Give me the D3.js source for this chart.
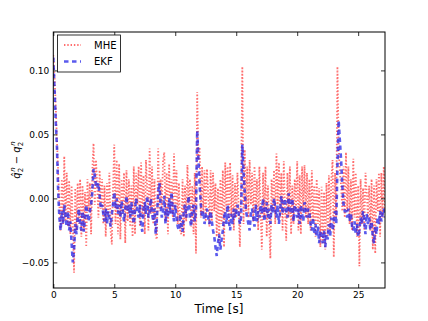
<!DOCTYPE html>
<html><head><meta charset="utf-8">
<script src="https://cdn.jsdelivr.net/npm/d3@7"></script>
<style>body{margin:0;background:#fff}svg{display:block}text{font-family:"DejaVu Sans",sans-serif}</style>
</head><body><svg id="c" width="428" height="321"></svg>
<script>
const dt = 0.1;
const mhe = [
0.112,0.095,0.072,0.045,0.020,-0.005,-0.025,0.015,-0.020,0.033,
-0.018,0.020,-0.022,0.014,-0.028,0.010,-0.020,-0.058,0.008,-0.025,
0.012,-0.020,0.015,-0.030,0.010,-0.025,0.005,-0.038,0.015,-0.010,
0.012,-0.028,0.022,0.043,-0.005,0.030,0.010,-0.015,0.022,-0.008,
0.015,-0.020,0.010,-0.030,0.012,-0.015,0.020,-0.025,-0.036,0.008,
0.042,-0.020,0.030,-0.028,0.027,-0.032,0.015,-0.012,0.020,-0.035,
0.022,-0.018,0.015,-0.022,0.010,-0.030,0.025,-0.028,0.020,-0.005,
0.025,-0.022,0.028,-0.015,0.018,-0.028,0.030,0.008,-0.025,0.039,
-0.012,0.025,-0.020,0.015,-0.030,-0.032,0.039,-0.010,0.015,-0.008,
0.030,0.036,-0.018,0.020,-0.028,0.027,-0.012,0.015,-0.015,0.035,
-0.010,0.022,-0.020,0.012,-0.025,-0.028,0.015,-0.030,0.010,-0.018,
0.026,-0.005,0.015,-0.022,0.010,-0.028,0.020,-0.043,0.083,0.030,
0.040,-0.015,0.025,-0.012,0.022,-0.018,0.023,0.005,-0.022,0.022,
-0.018,0.020,-0.010,0.012,-0.030,0.008,-0.035,0.015,-0.020,0.022,
-0.038,0.028,-0.010,0.025,-0.020,0.028,-0.015,0.018,-0.025,0.012,
-0.015,0.020,-0.008,-0.038,0.010,0.103,-0.020,0.038,-0.010,0.025,
-0.015,0.030,-0.005,0.020,-0.018,0.025,-0.010,0.015,-0.025,0.025,
-0.010,-0.040,0.020,-0.015,0.025,-0.030,0.010,-0.020,-0.047,0.015,
-0.010,0.022,-0.020,0.035,-0.005,0.028,-0.015,0.020,-0.025,0.029,
-0.010,-0.033,0.020,-0.015,0.025,-0.028,0.010,-0.020,0.015,-0.010,
0.029,-0.025,0.018,-0.028,0.025,-0.010,0.026,-0.015,0.020,-0.020,
0.015,-0.025,0.022,-0.018,0.010,-0.030,0.015,-0.020,0.008,-0.038,
0.009,-0.035,0.005,-0.040,0.012,-0.030,0.018,-0.025,0.015,0.030,
-0.046,0.020,-0.015,0.103,0.040,0.020,0.010,-0.010,0.025,-0.015,
0.036,-0.010,0.025,-0.020,0.015,-0.025,0.031,-0.015,0.020,-0.030,
0.010,-0.053,0.015,-0.020,0.008,-0.025,0.020,0.005,-0.015,0.010,
-0.025,0.015,-0.040,0.010,-0.043,0.015,-0.010,0.020,-0.030,0.020,
-0.015,0.025,-0.010];
const ekf = [
0.110,0.085,0.060,0.040,0.005,-0.015,-0.025,-0.010,-0.020,-0.005,
-0.015,-0.022,-0.010,-0.025,-0.018,-0.035,-0.050,-0.040,-0.020,-0.028,
-0.015,-0.008,-0.020,-0.025,-0.010,-0.026,-0.015,-0.005,-0.012,-0.018,
-0.010,-0.005,0.005,0.023,0.018,0.010,0.008,0.012,0.002,-0.008,
-0.005,-0.012,-0.018,-0.008,-0.020,-0.010,-0.015,-0.022,-0.012,-0.005,
0.005,-0.008,0.000,-0.012,-0.005,-0.015,-0.002,-0.010,-0.018,-0.008,
0.002,-0.010,-0.005,-0.015,-0.003,-0.012,-0.020,-0.008,0.000,-0.010,
-0.015,-0.005,-0.020,-0.026,-0.008,-0.003,-0.012,0.002,-0.015,-0.010,
0.000,-0.012,-0.018,-0.008,-0.028,-0.015,0.005,0.012,-0.005,-0.015,
-0.010,0.002,-0.020,-0.008,-0.015,0.000,-0.012,0.005,-0.010,-0.018,
-0.005,-0.015,-0.022,-0.025,-0.012,-0.020,-0.026,-0.010,-0.005,-0.015,
-0.008,0.002,-0.015,-0.022,-0.008,-0.005,-0.018,-0.010,0.053,0.030,
0.010,-0.005,-0.015,-0.010,-0.020,-0.012,-0.008,-0.015,-0.020,-0.010,
-0.018,-0.025,-0.030,-0.038,-0.045,-0.035,-0.028,-0.040,-0.032,-0.025,
-0.015,-0.010,-0.020,-0.005,-0.018,-0.025,-0.012,-0.020,-0.008,-0.015,
-0.010,-0.005,-0.012,-0.020,-0.015,0.042,0.020,0.005,-0.010,-0.015,
-0.020,-0.025,-0.012,-0.008,-0.015,-0.022,-0.005,-0.018,-0.010,-0.015,
-0.005,-0.012,0.000,-0.018,-0.010,-0.003,-0.015,-0.008,-0.020,-0.005,
-0.012,0.000,-0.008,-0.015,-0.005,-0.020,-0.010,0.002,-0.012,-0.006,
0.000,-0.010,-0.015,0.004,-0.008,-0.012,0.000,-0.018,-0.005,-0.010,
-0.015,-0.008,-0.020,-0.005,-0.012,-0.018,-0.003,-0.010,-0.015,-0.008,
-0.012,-0.020,-0.025,-0.015,-0.028,-0.020,-0.030,-0.022,-0.035,-0.025,
-0.030,-0.035,-0.025,-0.038,-0.028,-0.032,-0.020,-0.030,-0.015,-0.025,
-0.018,-0.010,-0.020,0.025,0.061,0.045,0.030,0.010,-0.005,-0.010,
-0.010,-0.015,-0.008,-0.018,-0.012,-0.022,-0.025,-0.018,-0.028,-0.020,
-0.030,-0.025,-0.015,-0.020,-0.010,-0.018,-0.028,-0.012,-0.020,-0.015,
-0.025,-0.018,-0.030,-0.035,-0.022,-0.028,-0.015,-0.020,-0.010,-0.018,
-0.012,-0.008,-0.015];
const seriesNames = ["MHE", "EKF"];
const xTicks = [0, 5, 10, 15, 20, 25];
const xTickLabels = ["0", "5", "10", "15", "20", "25"];
const yTicks = [-0.05, 0.00, 0.05, 0.10];
const yTickLabels = ["\u22120.05", "0.00", "0.05", "0.10"];
const xLabel = "Time [s]";

const svg = d3.select("#c");
const L = 53.3, R = 385, T = 32, B = 288;
const x = d3.scaleLinear().domain([0, 27.2]).range([L, R]);
const y = d3.scaleLinear().domain([-0.07, 0.13]).range([B, T]);

svg.append("clipPath").attr("id", "clip").append("rect")
  .attr("x", L).attr("y", T).attr("width", R - L).attr("height", B - T);

const line = d3.line().x((d, i) => x(i * dt)).y(d => y(d));
const g = svg.append("g").attr("clip-path", "url(#clip)");
const styles = [
  {data: mhe, color: "#ff2a2a", op: 0.68, w: 1.8, dash: "1.4,1.9"},
  {data: ekf, color: "#1a1ae6", op: 0.72, w: 2.6, dash: "4.5,3.5"}
];
styles.forEach(s => {
  g.append("path").datum(s.data).attr("d", line)
    .attr("fill", "none").attr("stroke", s.color).attr("stroke-opacity", s.op)
    .attr("stroke-width", s.w).attr("stroke-dasharray", s.dash);
});

// axes (ticks inward, mirrored)
const tl = 4;
const xb = svg.append("g").attr("transform", `translate(0,${B})`)
  .call(d3.axisBottom(x).tickValues(xTicks).tickFormat((d, i) => xTickLabels[i]).tickSizeInner(-tl).tickSizeOuter(0).tickPadding(4));
const xt = svg.append("g").attr("transform", `translate(0,${T})`)
  .call(d3.axisTop(x).tickValues(xTicks).tickFormat("").tickSizeInner(-tl).tickSizeOuter(0));
const yl = svg.append("g").attr("transform", `translate(${L},0)`)
  .call(d3.axisLeft(y).tickValues(yTicks).tickFormat((d, i) => yTickLabels[i]).tickSizeInner(-tl).tickSizeOuter(0).tickPadding(4));
const yr = svg.append("g").attr("transform", `translate(${R},0)`)
  .call(d3.axisRight(y).tickValues(yTicks).tickFormat("").tickSizeInner(-tl).tickSizeOuter(0));
[xb, xt, yl, yr].forEach(a => {
  a.select(".domain").remove();
  a.selectAll("line").attr("stroke", "#000").attr("stroke-width", 0.8);
  a.selectAll("text").attr("font-family", "DejaVu Sans").attr("font-size", 9).attr("fill", "#000");
});
svg.append("rect").attr("x", L).attr("y", T).attr("width", R - L).attr("height", B - T)
  .attr("fill", "none").attr("stroke", "#000").attr("stroke-width", 1);

// x label
svg.append("text").attr("x", 219).attr("y", 313).attr("text-anchor", "middle")
  .attr("font-size", 12).text(xLabel);

// y label: q̂₂ⁿ − q₂ⁿ
const yg = svg.append("g").attr("transform", "translate(20,160) rotate(-90)");
const yt = yg.append("text").attr("text-anchor", "middle").attr("font-size", 10);
yt.append("tspan").attr("font-style", "italic").text("q\u0302");
yt.append("tspan").attr("font-size", 7).attr("dy", 3).text("2");
yt.append("tspan").attr("font-size", 7).attr("font-style", "italic").attr("dx", -4).attr("dy", -8).text("n");
yt.append("tspan").attr("dy", 5).text(" \u2212 ");
yt.append("tspan").attr("font-style", "italic").text("q");
yt.append("tspan").attr("font-size", 7).attr("dy", 3).text("2");
yt.append("tspan").attr("font-size", 7).attr("font-style", "italic").attr("dx", -4).attr("dy", -8).text("n");

// legend
const lg = svg.append("g");
lg.append("rect").attr("x", 57.5).attr("y", 35).attr("width", 63).attr("height", 37)
  .attr("fill", "#fff").attr("stroke", "#000").attr("stroke-width", 0.8);
styles.forEach((s, i) => {
  const yy = 45 + i * 16.5;
  lg.append("line").attr("x1", 64).attr("x2", 81).attr("y1", yy).attr("y2", yy)
    .attr("stroke", s.color).attr("stroke-opacity", s.op).attr("stroke-width", s.w).attr("stroke-dasharray", s.dash);
  lg.append("text").attr("x", 94).attr("y", yy + 3.6).attr("font-size", 10).text(seriesNames[i]);
});
</script></body></html>
